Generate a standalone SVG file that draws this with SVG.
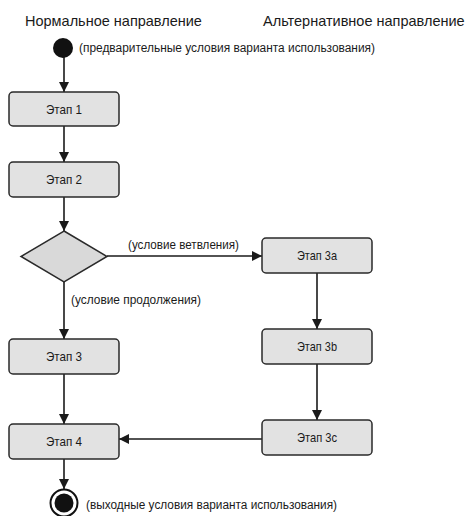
<svg xmlns="http://www.w3.org/2000/svg" width="468" height="516" viewBox="0 0 468 516">
<defs>
<marker id="arr" viewBox="0 0 10 10" refX="10" refY="5" markerWidth="10" markerHeight="10" markerUnits="userSpaceOnUse" orient="auto">
<path d="M0,0 L10,5 L0,10 z" fill="#1a1a1a"/>
</marker>
<style>
.box{fill:#e2e2e2;stroke:#2a2a2a;stroke-width:1.5}
.t{font-family:"Liberation Sans",Arial,sans-serif;fill:#1a1a1a}
.h{font-size:14.5px}
.lbl{font-size:12.5px}
.st{font-size:13px;text-anchor:middle}
.c{stroke:#1a1a1a;stroke-width:1.6;fill:none;marker-end:url(#arr)}
</style>
</defs>
<rect width="468" height="516" fill="#fff"/>
<text class="t h" x="25" y="26">Нормальное направление</text>
<text class="t h" x="263" y="26">Альтернативное направление</text>
<g id="connectors">
<line class="c" x1="64" y1="57" x2="64" y2="92"/>
<line class="c" x1="64" y1="126" x2="64" y2="162"/>
<line class="c" x1="64" y1="197" x2="64" y2="231"/>
<line class="c" x1="107" y1="256" x2="262" y2="256"/>
<line class="c" x1="64" y1="282" x2="64" y2="339"/>
<line class="c" x1="317" y1="273" x2="317" y2="329"/>
<line class="c" x1="317" y1="364" x2="317" y2="420"/>
<line class="c" x1="64" y1="374" x2="64" y2="424"/>
<line class="c" x1="262" y1="439" x2="119" y2="439"/>
<line class="c" x1="64" y1="459" x2="64" y2="489"/>
<text class="t lbl" x="128" y="249" textLength="111" lengthAdjust="spacingAndGlyphs">(условие ветвления)</text>
<text class="t lbl" x="71" y="304" textLength="130" lengthAdjust="spacingAndGlyphs">(условие продолжения)</text>
</g>
<g id="start">
<circle cx="63" cy="48" r="10" fill="#111"/>
<text class="t lbl" x="79" y="52" textLength="296" lengthAdjust="spacingAndGlyphs">(предварительные условия варианта использования)</text>
</g>
<g id="stage1"><rect class="box" x="9" y="92" width="110" height="34" rx="4"/><text class="t st" x="64" y="113.5" textLength="36" lengthAdjust="spacingAndGlyphs">Этап 1</text></g>
<g id="stage2"><rect class="box" x="9" y="162" width="110" height="35" rx="4"/><text class="t st" x="64" y="184" textLength="36" lengthAdjust="spacingAndGlyphs">Этап 2</text></g>
<g id="decision"><polygon points="64,231 107,256.5 64,282 21,256.5" fill="#d9d9d9" stroke="#2a2a2a" stroke-width="1.5"/></g>
<g id="stage3a"><rect class="box" x="262" y="238" width="110" height="35" rx="4"/><text class="t st" x="317" y="260" textLength="40" lengthAdjust="spacingAndGlyphs">Этап 3a</text></g>
<g id="stage3"><rect class="box" x="9" y="339" width="110" height="35" rx="4"/><text class="t st" x="64" y="361" textLength="36" lengthAdjust="spacingAndGlyphs">Этап 3</text></g>
<g id="stage3b"><rect class="box" x="262" y="329" width="110" height="35" rx="4"/><text class="t st" x="317" y="351" textLength="40" lengthAdjust="spacingAndGlyphs">Этап 3b</text></g>
<g id="stage4"><rect class="box" x="9" y="424" width="110" height="35" rx="4"/><text class="t st" x="64" y="445.5" textLength="36" lengthAdjust="spacingAndGlyphs">Этап 4</text></g>
<g id="stage3c"><rect class="box" x="262" y="420" width="110" height="35" rx="4"/><text class="t st" x="317" y="442" textLength="40" lengthAdjust="spacingAndGlyphs">Этап 3c</text></g>
<g id="end">
<circle cx="64" cy="503" r="13.5" fill="#fff" stroke="#111" stroke-width="2"/>
<circle cx="64" cy="503" r="9.5" fill="#111"/>
<text class="t lbl" x="86" y="509" textLength="251" lengthAdjust="spacingAndGlyphs">(выходные условия варианта использования)</text>
</g>
</svg>
